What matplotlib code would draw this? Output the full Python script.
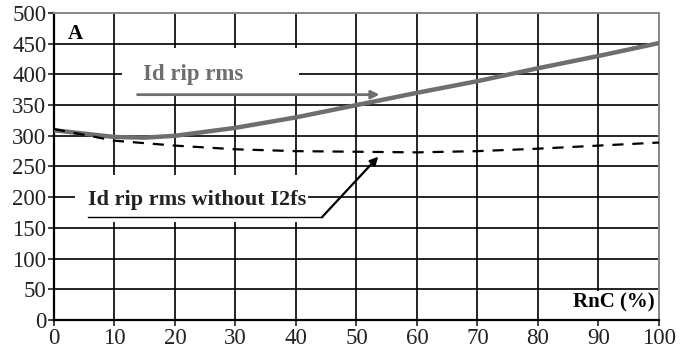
import matplotlib.pyplot as plt
from matplotlib.patches import Rectangle

plt.rcParams['font.family'] = ['Liberation Serif', 'DejaVu Serif']

rnc = [0, 10, 15, 20, 30, 40, 50, 60, 70, 80, 90, 100]
id_rip_rms = [309, 298, 297, 300, 313, 330, 350, 370, 389, 410, 430, 451]
id_rip_rms_no_i2fs = [311, 292, 288, 284, 278, 275, 274, 273, 275, 279, 284, 289]

x_ticks = list(range(0, 101, 10))
y_ticks = list(range(0, 501, 50))

fig = plt.figure(figsize=(6.8, 3.49), dpi=100)
ax = fig.add_axes([0.0794, 0.0831, 0.8897, 0.8797])

ax.plot(rnc, id_rip_rms, color='#6e6e6e', lw=3.2, zorder=3, solid_capstyle='butt')
ax.plot(rnc, id_rip_rms_no_i2fs, color='black', lw=1.6, dashes=(5, 4), zorder=3)

ax.set_xlim(0, 100)
ax.set_ylim(0, 500)
ax.set_xticks(x_ticks)
ax.set_yticks(y_ticks)
ax.grid(True, color='black', lw=1.2)
ax.set_axisbelow(True)
ax.tick_params(labelsize=16.5, length=4, width=1.2, pad=1.5, colors='#222222')
for s in ['left', 'bottom']:
    ax.spines[s].set_linewidth(1.6)
    ax.spines[s].set_color('black')
for s in ['top', 'right']:
    ax.spines[s].set_linewidth(1.4)
    ax.spines[s].set_color('#8a8a8a')

# white boxes behind the labels
for x0, y0, w, h in [(11.2, 366, 29.3, 77), (3.5, 159, 38.5, 77), (84.5, 0.5, 15, 47)]:
    ax.add_patch(Rectangle((x0, y0), w, h, fc='white', ec='none', zorder=2))

ax.text(2.3, 466, 'A', fontsize=15, fontweight='bold', ha='left', va='center', zorder=5)

ax.text(14.7, 399, 'Id rip rms', fontsize=16.5, fontweight='bold', color='#6e6e6e',
        ha='left', va='center', zorder=4)
ax.annotate('', xy=(53.8, 367), xytext=(13.8, 367),
            arrowprops=dict(arrowstyle='-|>', color='#6e6e6e', lw=2,
                            mutation_scale=12, shrinkA=0, shrinkB=0), zorder=5)

ax.text(5.6, 195, 'Id rip rms without I2fs', fontsize=16, fontweight='bold',
        color='#222222', ha='left', va='center', zorder=4)
ax.plot([5.6, 44.3], [167.5, 167.5], color='black', lw=1, zorder=5)
ax.annotate('', xy=(53.6, 266), xytext=(44.3, 167.5),
            arrowprops=dict(arrowstyle='-|>', color='black', lw=1.6,
                            mutation_scale=12, shrinkA=0, shrinkB=0), zorder=5)

ax.text(99.3, 29, 'RnC (%)', fontsize=15, fontweight='bold', ha='right', va='center',
        zorder=4)

fig.savefig('out.png', dpi=100)
